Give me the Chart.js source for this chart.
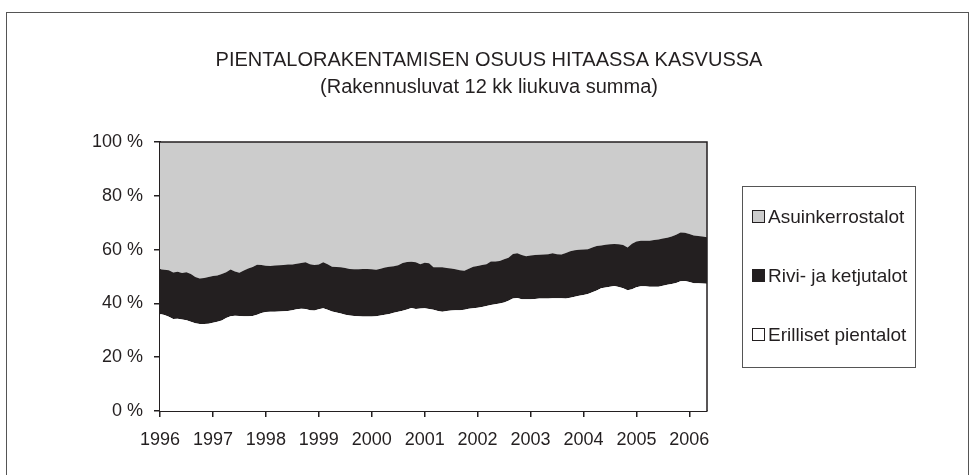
<!DOCTYPE html>
<html>
<head>
<meta charset="utf-8">
<script src="https://cdn.jsdelivr.net/npm/chart.js@4.4.1/dist/chart.umd.min.js"></script>
<style>
html,body{margin:0;padding:0;background:#fff;}
canvas{display:block;}
</style>
</head>
<body>
<canvas id="c" width="974" height="475"></canvas>
<script>
// Monthly observations Jan 1996 .. May 2006 (index 0 = 1996-01)
const startYear = 1996;
const seriesNames = ["Erilliset pientalot", "Rivi- ja ketjutalot", "Asuinkerrostalot"];
const titleLines = ["PIENTALORAKENTAMISEN OSUUS HITAASSA KASVUSSA", "(Rakennusluvat 12 kk liukuva summa)"];
const yTicks = [0, 20, 40, 60, 80, 100];

const erilliset = [
36.1,35.7,35.0,34.2,34.3,34.0,33.7,33.2,32.6,32.3,32.3,32.4,
32.8,33.2,33.6,34.6,35.2,35.4,35.3,35.2,35.2,35.3,35.8,36.4,
36.8,36.9,36.9,37.0,37.1,37.2,37.5,37.8,38.0,37.9,37.5,37.4,
37.8,38.2,37.6,37.0,36.6,36.2,35.8,35.5,35.3,35.2,35.1,35.1,
35.1,35.2,35.5,35.8,36.1,36.5,36.9,37.3,37.7,38.3,37.9,38.1,
38.2,37.9,37.6,37.2,36.9,37.2,37.4,37.5,37.5,37.6,38.0,38.2,
38.4,38.7,39.0,39.4,39.7,40.0,40.3,41.0,41.8,42.0,41.5,41.5,
41.5,41.6,41.8,41.8,41.8,41.9,41.9,41.9,41.8,42.1,42.5,42.8,
43.1,43.5,44.1,44.8,45.6,45.9,46.2,46.5,46.1,45.6,44.9,45.3,
46.0,46.4,46.4,46.2,46.2,46.2,46.6,46.9,47.2,47.6,48.2,48.3,
48.0,47.5,47.5,47.4,47.3
];
const rivi = [
16.6,16.8,17.3,17.3,17.5,17.3,17.9,17.7,17.2,17.0,17.1,17.4,
17.4,17.2,17.3,17.0,17.4,16.5,16.1,17.0,17.8,18.2,18.6,17.9,
17.2,17.0,17.2,17.2,17.2,17.3,17.0,16.9,17.0,17.4,17.1,16.9,
16.7,17.1,17.0,16.6,16.9,17.2,17.4,17.3,17.4,17.5,17.7,17.7,
17.6,17.3,17.4,17.5,17.5,17.3,17.3,17.7,17.7,17.2,17.4,16.5,
16.9,17.0,15.8,16.2,16.5,16.0,15.6,15.2,14.8,14.5,14.9,15.4,
15.5,15.6,15.6,16.2,15.9,15.8,16.1,16.0,16.6,16.6,16.5,16.0,
16.3,16.4,16.3,16.4,16.5,16.7,16.4,16.3,16.9,17.3,17.3,17.1,
16.9,16.6,16.7,16.5,15.9,15.9,15.8,15.6,15.9,16.1,15.9,16.9,
17.0,16.9,16.9,17.1,17.4,17.6,17.5,17.5,17.7,17.9,18.2,18.0,
17.8,17.7,17.6,17.5,17.3
];
const asuin = [
47.3,47.5,47.7,48.5,48.2,48.7,48.4,49.1,50.2,50.7,50.6,50.2,
49.8,49.6,49.1,48.4,47.4,48.1,48.6,47.8,47.0,46.5,45.6,45.7,
46.0,46.1,45.9,45.8,45.7,45.5,45.5,45.3,45.0,44.7,45.4,45.7,
45.5,44.7,45.4,46.4,46.5,46.6,46.8,47.2,47.3,47.3,47.2,47.2,
47.3,47.5,47.1,46.7,46.4,46.2,45.8,45.0,44.6,44.5,44.7,45.4,
44.9,45.1,46.6,46.6,46.6,46.8,47.0,47.3,47.7,47.9,47.1,46.4,
46.1,45.7,45.4,44.4,44.4,44.2,43.6,43.0,41.6,41.4,42.0,42.5,
42.2,42.0,41.9,41.8,41.7,41.4,41.7,41.8,41.3,40.6,40.2,40.1,
40.0,39.9,39.2,38.7,38.5,38.2,38.0,37.9,38.0,38.3,39.2,37.8,
37.0,36.7,36.7,36.7,36.4,36.2,35.9,35.6,35.1,34.5,33.6,33.7,
34.2,34.8,34.9,35.1,35.4
];

const fillColors = ["#ffffff", "#231f20", "#cccccc"];
const ink = "#231f20";
const FONT = "'Liberation Sans', Arial, sans-serif";

function toXY(arr){ return arr.map((v,i)=>({x:i, y:v})); }

const framePlugin = {
  id: 'frame',
  beforeDraw(chart){
    const ctx = chart.ctx;
    ctx.save();
    ctx.fillStyle = '#fff';
    ctx.fillRect(0,0,chart.width,chart.height);
    ctx.strokeStyle = '#555';
    ctx.lineWidth = 1;
    ctx.strokeRect(6.5, 12.5, 962, 480);
    ctx.restore();
  },
  afterDatasetsDraw(chart){
    const a = chart.chartArea, ctx = chart.ctx;
    ctx.save();
    ctx.strokeStyle = ink;
    ctx.lineWidth = 1.5;
    ctx.beginPath();
    ctx.moveTo(a.left, a.top); ctx.lineTo(a.right, a.top); ctx.lineTo(a.right, a.bottom);
    ctx.stroke();
    ctx.restore();
  },
  afterDraw(chart){
    const ctx = chart.ctx;
    ctx.save();
    // title
    ctx.fillStyle = ink;
    ctx.font = "20px " + FONT;
    ctx.textAlign = 'center';
    ctx.textBaseline = 'middle';
    ctx.fillText(titleLines[0], 489, 60);
    ctx.fillText(titleLines[1], 489, 87);
    // legend box
    ctx.strokeStyle = '#555';
    ctx.lineWidth = 1;
    ctx.strokeRect(742.5, 186.5, 173, 181);
    ctx.font = "19px " + FONT;
    ctx.textBaseline = 'middle';
    ctx.textAlign = 'left';
    const order = [2,1,0];
    const ys = [217, 276, 335];
    order.forEach((di, k) => {
      const ds = chart.data.datasets[di];
      const y = ys[k];
      ctx.fillStyle = ds.backgroundColor;
      ctx.fillRect(752.5, y-6.5, 12, 12);
      ctx.strokeStyle = ink;
      ctx.lineWidth = 1;
      ctx.strokeRect(752.5, y-6.5, 12, 12);
      ctx.fillStyle = ink;
      ctx.fillText(ds.label, 768, y+1);
    });
    ctx.restore();
  }
};

new Chart(document.getElementById('c'), {
  type: 'line',
  data: {
    datasets: [
      { label: seriesNames[0], data: toXY(erilliset), backgroundColor: fillColors[0], fill: 'origin' },
      { label: seriesNames[1], data: toXY(rivi), backgroundColor: fillColors[1], fill: '-1' },
      { label: seriesNames[2], data: toXY(asuin), backgroundColor: fillColors[2], fill: '-1' }
    ]
  },
  options: {
    responsive: false,
    animation: false,
    devicePixelRatio: 1,
    elements: { point: { radius: 0 }, line: { borderWidth: 0, tension: 0 } },
    layout: { padding: { left: 20, right: 267, top: 142, bottom: 0 } },
    plugins: {
      legend: { display: false },
      tooltip: { enabled: false },
      title: { display: false }
    },
    scales: {
      x: {
        type: 'linear',
        min: 0,
        max: erilliset.length - 1,
        afterFit(s){ s.height = 64; },
        grid: { display: true, drawOnChartArea: false, drawTicks: true, tickLength: 6, color: ink, lineWidth: 1.5 },
        border: { display: true, color: ink, width: 2 },
        ticks: {
          stepSize: 12,
          includeBounds: false,
          autoSkip: false,
          maxRotation: 0,
          padding: 12,
          color: ink,
          font: { family: FONT, size: 18 },
          callback: (v) => (v % 12 === 0 ? String(startYear + v/12) : null)
        }
      },
      y: {
        stacked: true,
        min: 0,
        max: 100,
        afterFit(s){ s.width = 140; },
        afterBuildTicks(s){ s.ticks = yTicks.map(v => ({value: v})); },
        grid: { display: true, drawOnChartArea: false, drawTicks: true, tickLength: 6, color: ink, lineWidth: 1.5 },
        border: { display: true, color: ink, width: 2 },
        ticks: {
          padding: 11,
          color: ink,
          font: { family: FONT, size: 18 },
          callback: (v) => v + " %"
        }
      }
    }
  },
  plugins: [framePlugin]
});
</script>
</body>
</html>
